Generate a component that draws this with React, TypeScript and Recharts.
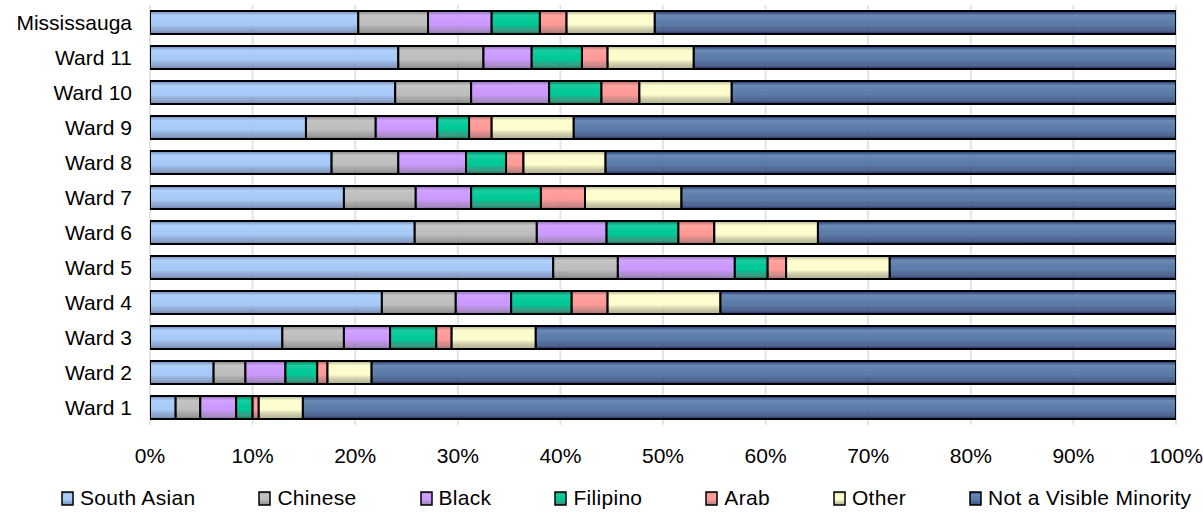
import React from 'react';
import { BarChart, Bar, XAxis, YAxis, CartesianGrid, Legend } from 'recharts';

const categories = ['Mississauga', 'Ward 11', 'Ward 10', 'Ward 9', 'Ward 8', 'Ward 7', 'Ward 6', 'Ward 5', 'Ward 4', 'Ward 3', 'Ward 2', 'Ward 1'];
const southAsian = [20.3, 24.2, 23.9, 15.2, 17.7, 18.9, 25.8, 39.3, 22.6, 12.9, 6.2, 2.5];
const chinese = [6.8, 8.3, 7.4, 6.8, 6.5, 7.0, 11.9, 6.3, 7.2, 6.0, 3.1, 2.4];
const black = [6.2, 4.7, 7.6, 6.0, 6.6, 5.4, 6.8, 11.4, 5.4, 4.5, 3.9, 3.5];
const filipino = [4.7, 4.9, 5.1, 3.1, 3.9, 6.8, 7.0, 3.2, 5.9, 4.5, 3.1, 1.6];
const arab = [2.6, 2.5, 3.7, 2.2, 1.7, 4.3, 3.5, 1.8, 3.5, 1.5, 1.0, 0.6];
const other = [8.6, 8.4, 9.0, 8.0, 8.0, 9.4, 10.1, 10.1, 11.0, 8.2, 4.3, 4.3];
const notVisibleMinority = [50.8, 47.0, 43.3, 58.7, 55.6, 48.2, 34.9, 27.9, 44.4, 62.4, 78.4, 85.1];
const xTicks = [0, 10, 20, 30, 40, 50, 60, 70, 80, 90, 100];

const seriesNames = ['South Asian', 'Chinese', 'Black', 'Filipino', 'Arab', 'Other', 'Not a Visible Minority'];
const seriesValues = [southAsian, chinese, black, filipino, arab, other, notVisibleMinority];
const seriesColors = [
  { id: 'gSA', edge: '#6a86b6', mid: '#a6cbf8' },
  { id: 'gCH', edge: '#808080', mid: '#bebebe' },
  { id: 'gBL', edge: '#8f6bb3', mid: '#cc99ff' },
  { id: 'gFI', edge: '#007a5a', mid: '#00c896' },
  { id: 'gAR', edge: '#b36464', mid: '#ff9a96' },
  { id: 'gOT', edge: '#b0b08a', mid: '#fdfccc' },
  { id: 'gNV', edge: '#1b336b', mid: '#5c7dab' },
];

const data = categories.map((name, i) => {
  const row: Record<string, any> = { name };
  seriesNames.forEach((s, k) => {
    row[s] = seriesValues[k][i];
  });
  return row;
});

const FONT = '"Liberation Sans", Arial, sans-serif';

const renderLegend = () => (
  <div
    style={{
      display: 'flex',
      alignItems: 'center',
      height: 32,
      paddingLeft: 61,
      gap: 63,
      fontFamily: FONT,
      fontSize: 21,
      letterSpacing: 0.3,
      color: '#000',
      whiteSpace: 'nowrap',
    }}
  >
    {seriesNames.map((s, k) => (
      <div key={s} style={{ display: 'flex', alignItems: 'center' }}>
        <svg width={13} height={15} style={{ marginRight: 6 }}>
          <rect x={1} y={1} width={11} height={13} fill={`url(#${seriesColors[k].id})`} stroke="#000" strokeWidth={1.5} />
        </svg>
        <span>{s}</span>
      </div>
    ))}
  </div>
);

export default function App() {
  return (
    <div style={{ position: 'absolute', left: 0, top: 0, width: 1203, height: 514, background: '#fff' }}>
      <BarChart
        width={1203}
        height={514}
        data={data}
        layout="vertical"
        margin={{ top: 5, right: 27, bottom: 0, left: 0 }}
        barCategoryGap={0}
      >
        <defs>
          {seriesColors.map((c) => (
            <linearGradient key={c.id} id={c.id} x1="0" y1="0" x2="0" y2="1">
              <stop offset="0%" stopColor={c.edge} />
              <stop offset="20%" stopColor={c.mid} stopOpacity={0.9} />
              <stop offset="45%" stopColor={c.mid} />
              <stop offset="60%" stopColor={c.mid} />
              <stop offset="85%" stopColor={c.edge} stopOpacity={0.75} />
              <stop offset="100%" stopColor={c.edge} />
            </linearGradient>
          ))}
        </defs>
        <CartesianGrid horizontal={false} vertical={true} stroke="#e4e4e4" strokeWidth={2} />
        <XAxis
          type="number"
          domain={[0, 100]}
          ticks={xTicks}
          tickFormatter={(v: number) => `${v}%`}
          axisLine={false}
          tickLine={false}
          tickSize={0}
          tickMargin={23}
          height={57}
          interval={0}
          allowDataOverflow
          tick={{ fontSize: 21, fill: '#000', fontFamily: FONT }}
        />
        <YAxis
          type="category"
          dataKey="name"
          width={150}
          axisLine={false}
          tickLine={false}
          tickSize={0}
          tickMargin={18}
          interval={0}
          tick={{ fontSize: 21, fill: '#000', fontFamily: FONT }}
        />
        <Legend verticalAlign="bottom" align="left" content={renderLegend} />
        {seriesNames.map((s, k) => (
          <Bar
            key={s}
            dataKey={s}
            stackId="a"
            barSize={23}
            fill={`url(#${seriesColors[k].id})`}
            stroke="#000"
            strokeWidth={2}
            isAnimationActive={false}
          />
        ))}
      </BarChart>
    </div>
  );
}
